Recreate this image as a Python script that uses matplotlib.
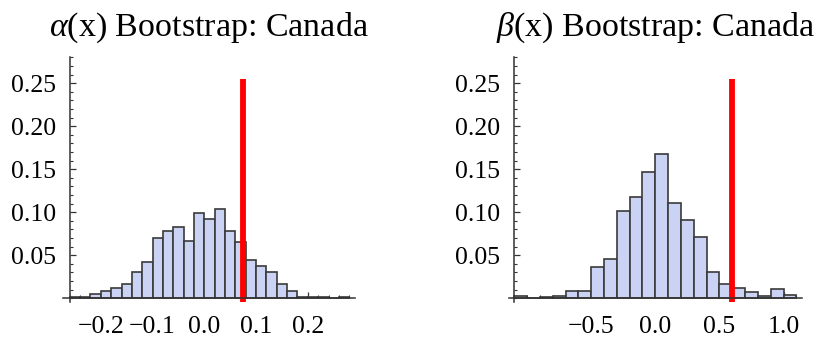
import matplotlib
matplotlib.use("Agg")
import matplotlib.pyplot as plt
import numpy as np
from matplotlib.ticker import MultipleLocator, FixedLocator, FuncFormatter

plt.rcParams["font.family"] = ["Liberation Serif", "DejaVu Serif"]
plt.rcParams["mathtext.fontset"] = "custom"
plt.rcParams["mathtext.rm"] = "Liberation Serif"
plt.rcParams["mathtext.it"] = "Liberation Serif:italic"

# Bootstrap distribution of alpha(x): bin edges start at -0.26, width 0.02
alpha_start = -0.26
alpha_width = 0.02
alpha_freq = [0.001, 0.001, 0.005, 0.008, 0.012, 0.017, 0.031, 0.042, 0.070,
              0.078, 0.083, 0.067, 0.099, 0.092, 0.104, 0.078, 0.066, 0.044,
              0.037, 0.030, 0.017, 0.009, 0.002, 0.0015, 0.001, 0.0, 0.001]
alpha_estimate = 0.075
alpha_xticks = [-0.2, -0.1, 0.0, 0.1, 0.2]

# Bootstrap distribution of beta(x): bin edges start at -1.1, width 0.1
beta_start = -1.1
beta_width = 0.1
beta_freq = [0.003, 0.0, 0.001, 0.003, 0.009, 0.009, 0.036, 0.046, 0.102,
             0.118, 0.147, 0.168, 0.111, 0.091, 0.071, 0.030, 0.017, 0.012,
             0.007, 0.003, 0.011, 0.004]
beta_estimate = 0.60
beta_xticks = [-0.5, 0.0, 0.5, 1.0]

y_ticks = [0.05, 0.10, 0.15, 0.20, 0.25]

BAR_FACE = "#CBD3F5"
BAR_EDGE = "#3A3A3A"
AXIS_COLOR = "#333333"

fig = plt.figure(figsize=(8.22, 3.48), dpi=100)
W, H = 822.0, 348.0


def fmt(decimals):
    def f(v, _pos):
        return f"{v:.{decimals}f}".replace("-", "\u2212")
    return FuncFormatter(f)


def make_axes(px_left, px_width):
    bottom_px, top_px = 302.3, 57.5
    return fig.add_axes([px_left / W, (H - bottom_px) / H,
                         px_width / W, (bottom_px - top_px) / H])


def draw_panel(ax, start, width, freq, estimate, xticks, xminor,
               xlim, title):
    n = len(freq)
    lefts = start + width * np.arange(n)
    ax.bar(lefts, freq, width=width, align="edge", color=BAR_FACE,
           edgecolor=BAR_EDGE, linewidth=1.2, zorder=2)
    ax.vlines(estimate, -0.005, 0.255, color="#FF0000", linewidth=4.2,
              zorder=3, capstyle="butt")

    ax.set_xlim(*xlim)
    ax.set_ylim(-0.0047, 0.28)

    for side in ("top", "right"):
        ax.spines[side].set_visible(False)
    ax.spines["left"].set_position(("data", start))
    ax.spines["bottom"].set_position(("data", 0.0))
    for side in ("left", "bottom"):
        ax.spines[side].set_color(AXIS_COLOR)
        ax.spines[side].set_linewidth(1.1)
        ax.spines[side].set_zorder(4)

    ax.yaxis.set_major_locator(FixedLocator(y_ticks))
    ax.yaxis.set_minor_locator(MultipleLocator(0.01))
    ax.yaxis.set_major_formatter(fmt(2))
    ax.xaxis.set_major_locator(FixedLocator(xticks))
    ax.xaxis.set_minor_locator(MultipleLocator(xminor))
    ax.xaxis.set_major_formatter(fmt(1))

    ax.tick_params(axis="both", which="both", direction="in",
                   color=AXIS_COLOR, labelsize=18.5, labelcolor="black")
    ax.tick_params(axis="both", which="major", length=4.3, width=0.9)
    ax.tick_params(axis="both", which="minor", length=2.4, width=0.8)
    ax.tick_params(axis="y", which="major", pad=10)
    ax.tick_params(axis="x", which="major", pad=13)

    ax.set_title(title, fontsize=24.5, pad=16)
    ax.patch.set_visible(False)


ax1 = make_axes(62.8, 292.2)
draw_panel(ax1, alpha_start, alpha_width, alpha_freq, alpha_estimate,
           alpha_xticks, 0.02, (-0.2735, 0.2912),
           r"$\alpha$(x) Bootstrap: Canada")

ax2 = make_axes(509.0, 292.7)
draw_panel(ax2, beta_start, beta_width, beta_freq, beta_estimate,
           beta_xticks, 0.1, (-1.141, 1.1416),
           r"$\beta$(x) Bootstrap: Canada")

fig.savefig("out.png", dpi=100)
